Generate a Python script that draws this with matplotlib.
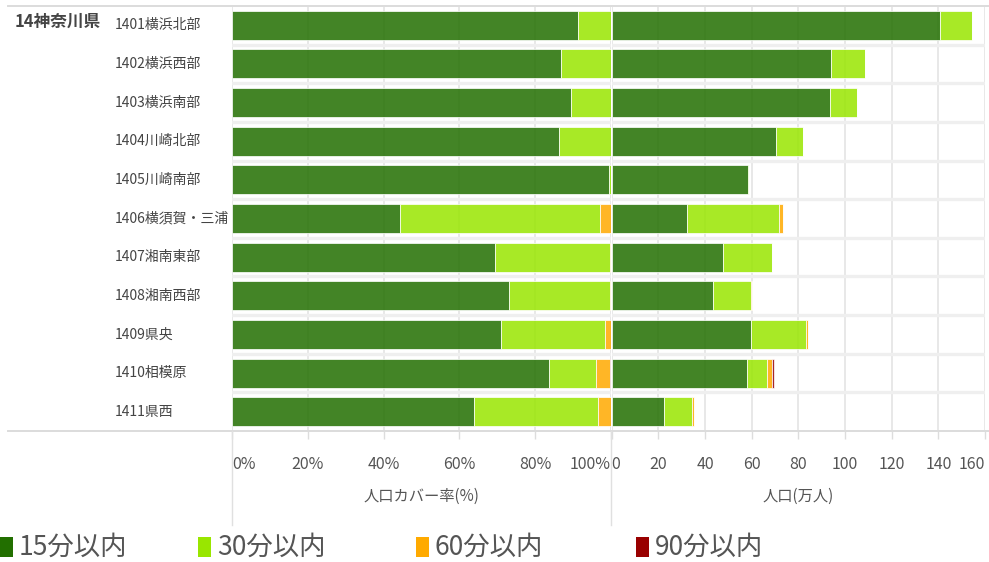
import matplotlib
matplotlib.use("Agg")
import matplotlib.pyplot as plt
from matplotlib.lines import Line2D
from matplotlib.patches import Rectangle
from matplotlib.transforms import blended_transform_factory
import numpy as np

plt.rcParams['font.family'] = ['Noto Sans CJK JP', 'DejaVu Sans']

# ---- data -------------------------------------------------------------
prefecture = '14神奈川県'
areas = ['1401横浜北部', '1402横浜西部', '1403横浜南部', '1404川崎北部',
         '1405川崎南部', '1406横須賀・三浦', '1407湘南東部', '1408湘南西部',
         '1409県央', '1410相模原', '1411県西']

band_labels = ['15分以内', '30分以内', '60分以内', '90分以内']
band_colors = ['#226f00', '#99e600', '#ffaa00', '#990000']

# population coverage rate (%)
pct_15 = [91.3, 86.8, 89.4, 86.3, 99.6, 44.2, 69.5, 73.2, 70.9, 83.7, 63.8]
pct_30 = [8.7, 13.2, 10.6, 13.7, 0.4, 52.8, 30.3, 26.6, 27.5, 12.3, 32.8]
pct_60 = [0, 0, 0, 0, 0, 3.0, 0.2, 0.2, 1.6, 3.7, 3.4]
pct_90 = [0, 0, 0, 0, 0, 0, 0, 0, 0, 0.3, 0]

# population (10,000 people)
pop_15 = [140.8, 94.0, 93.6, 70.6, 58.6, 32.3, 47.7, 43.4, 59.7, 58.0, 22.4]
pop_30 = [13.5, 14.6, 11.5, 11.4, 0.2, 39.3, 21.0, 16.5, 23.4, 8.4, 11.9]
pop_60 = [0, 0, 0, 0, 0, 2.0, 0.2, 0.2, 1.2, 2.3, 0.8]
pop_90 = [0, 0, 0, 0, 0, 0, 0, 0, 0, 0.9, 0]

pct_ticks = [0, 20, 40, 60, 80, 100]
pct_ticklabels = ['0%', '20%', '40%', '60%', '80%', '100%']
pop_ticks = [0, 20, 40, 60, 80, 100, 120, 140, 160]
pop_ticklabels = [str(t) for t in pop_ticks]

pct_title = '人口カバー率(%)'
pop_title = '人口(万人)'

# ---- layout -----------------------------------------------------------
W, H = 989, 562
fig = plt.figure(figsize=(W / 100, H / 100), dpi=100)


def fx(px):
    return px / W


def fy(py):
    return 1 - py / H


top, bottom = 6, 431
ax_l = fig.add_axes([fx(232), fy(bottom), fx(611 - 232), fy(top) - fy(bottom)])
ax_r = fig.add_axes([fx(611.7), fy(bottom), fx(985 - 611.7), fy(top) - fy(bottom)])

grid_c = '#e6e6e6'
label_c = '#555555'
n = len(areas)
y = np.arange(n)


def stacked(ax, series, ticks, ticklabels, xmax):
    left = np.zeros(n)
    for vals, col in zip(series, band_colors):
        vals = np.asarray(vals, dtype=float)
        ax.barh(y, vals, left=left, height=0.75, color=col, alpha=0.85,
                edgecolor=(1, 1, 1, 0.35), linewidth=0.6, zorder=3)
        left += vals
    ax.set_xlim(0, xmax)
    ax.set_ylim(n - 0.5, -0.5)
    ax.set_yticks([])
    ax.set_xticks(ticks)
    ax.set_xticklabels(ticklabels)
    for s in ax.spines.values():
        s.set_visible(False)
    ax.grid(axis='x', color=grid_c, linewidth=1.3, zorder=0)
    ax.set_axisbelow(True)
    for b in np.arange(n - 1) + 0.5:
        ax.axhline(b, color='#efefef', linewidth=2.4, zorder=1)
    ax.tick_params(axis='x', length=6, width=1, color='#dddddd',
                   pad=12, labelsize=11.5, labelcolor=label_c)
    labs = ax.get_xticklabels()
    labs[0].set_horizontalalignment('left')
    labs[-1].set_horizontalalignment('right')


stacked(ax_l, [pct_15, pct_30, pct_60, pct_90], pct_ticks, pct_ticklabels, 100)
stacked(ax_r, [pop_15, pop_30, pop_60, pop_90], pop_ticks, pop_ticklabels, 160)

ax_l.set_xlabel(pct_title, fontsize=11, color=label_c, labelpad=11)
ax_r.set_xlabel(pop_title, fontsize=11, color=label_c, labelpad=11)

# area names on the left
tr = blended_transform_factory(fig.transFigure, ax_l.transData)
for i, name in enumerate(areas):
    fig.text(fx(115), i, name, transform=tr, ha='left', va='center',
             fontsize=10, color='#444444')
fig.text(fx(15), -0.08, prefecture, transform=tr, ha='left', va='center',
         fontsize=12, fontweight='bold', color='#444444')

# frame lines
for py in (top, bottom):
    fig.add_artist(Line2D([fx(8), 1], [fy(py), fy(py)], color='#dcdcdc',
                          linewidth=1.4, transform=fig.transFigure))
for px in (232, 611):
    fig.add_artist(Line2D([fx(px), fx(px)], [fy(bottom), fy(525)],
                          color='#e0e0e0', linewidth=1.0,
                          transform=fig.transFigure))

# legend
leg_x = [0, 198, 416, 636]
for lx, lab, col in zip(leg_x, band_labels, band_colors):
    fig.add_artist(Rectangle((fx(lx), fy(557)), fx(13), fy(537) - fy(557),
                             facecolor=col, edgecolor='none',
                             transform=fig.transFigure))
    fig.text(fx(lx + 19), fy(547), lab, ha='left', va='center',
             fontsize=19, color=label_c)

fig.savefig('out.png', dpi=100)
